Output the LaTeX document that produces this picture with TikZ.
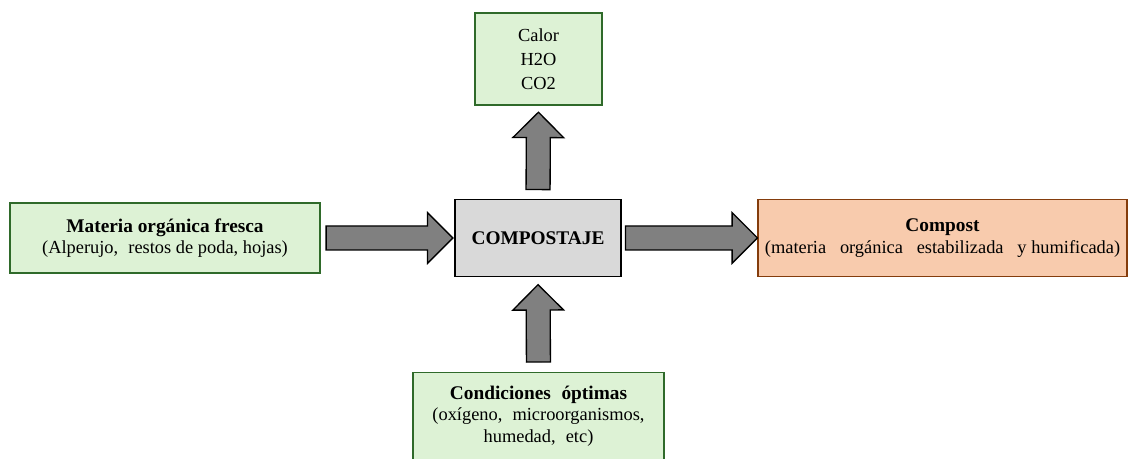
\documentclass[tikz,border=0pt]{standalone}
\usepackage{fontspec}
\setmainfont{Liberation Serif}
\usetikzlibrary{shapes.arrows}

\definecolor{verdeclaro}{HTML}{DDF2D5}
\definecolor{verdeosc}{HTML}{2F6A2A}
\definecolor{naranjaclaro}{HTML}{F8CBAD}
\definecolor{marron}{HTML}{843C0C}
\definecolor{grisclaro}{HTML}{D9D9D9}
\definecolor{grisflecha}{HTML}{808080}

\newcommand{\tit}[1]{{\fontsize{14.5}{16}\selectfont\bfseries #1}}
\newcommand{\esp}{\hspace{0.55em}}

\begin{document}
\begin{tikzpicture}[x=0.75pt, y=-0.75pt,
    caja/.style={draw=verdeosc, fill=verdeclaro, line width=1.1pt, align=center,
      inner sep=2pt, font=\fontsize{13.8}{16}\selectfont},
    flecha/.style={single arrow, draw=black, fill=grisflecha, line width=1pt,
      inner xsep=0pt, inner ysep=8.5pt, single arrow head extend=10pt,
      single arrow tip angle=90, sloped, allow upside down}]
  \useasboundingbox (0,0) rectangle (1128,459);

  % cajas
  \node[caja, minimum width=232.5pt, minimum height=52.5pt] (materia) at (165,238)
    {\tit{Materia orgánica fresca}\\(Alperujo,\esp restos de poda, hojas)};
  \node[caja, minimum width=124.5pt, minimum height=57.75pt, draw=black, fill=grisclaro] (compostaje) at (538,238)
    {\tit{COMPOSTAJE}};
  \node[caja, minimum width=95.25pt, minimum height=69pt, font=\fontsize{13.8}{18}\selectfont] (gases) at (538.5,59)
    {Calor\\H2O\\CO2};
  \node[caja, minimum width=276.75pt, minimum height=57.75pt, draw=marron, fill=naranjaclaro] (compost) at (942.5,238)
    {\tit{Compost}\\(materia\hspace{0.75em}orgánica\hspace{0.75em}estabilizada\hspace{0.75em}y humificada)};
  \node[caja, minimum width=188.25pt, anchor=north, inner ysep=10pt] (condiciones) at (538.5,372)
    {\tit{Condiciones\esp óptimas}\\(oxígeno,\esp microorganismos,\\humedad,\esp etc)\\[30pt]\mbox{}};

  % flechas
  \path (materia.east) -- node[flecha, pos=0.47, minimum height=95pt] {} (compostaje.west);
  \path (compostaje.east) -- node[flecha, pos=0.47, minimum height=99pt] {} (compost.west);
  \path (compostaje.north) -- node[flecha, pos=0.45, minimum height=58pt] {} (gases.south);
  \path (condiciones.north) -- node[flecha, pos=0.45, minimum height=58pt] {} (compostaje.south);
\end{tikzpicture}
\end{document}
